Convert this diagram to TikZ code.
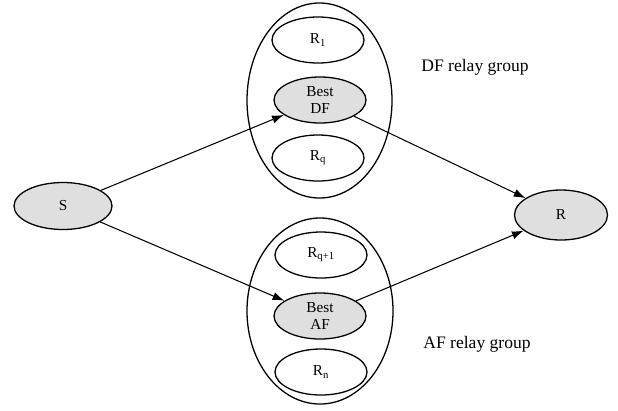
\documentclass[tikz,border=0pt]{standalone}
\usepackage{fontspec}
\setmainfont{Liberation Serif}
\usepackage{tikz}
\usetikzlibrary{shapes.geometric, arrows.meta}

\begin{document}
\begin{tikzpicture}[x=0.03cm, y=-0.03cm,
	relay/.style={ellipse, draw, line width=1.1pt, minimum width=2.76cm, minimum height=1.38cm, inner sep=0pt, font=\fontsize{13}{14}\selectfont, align=center},
	best/.style={relay, fill=gray!25},
	group/.style={ellipse, draw, line width=1.1pt, inner sep=0pt},
	link/.style={-{Latex[length=10pt, width=7pt]}, line width=0.9pt}]
	\useasboundingbox (0,0) rectangle (618,410);
	
	% relay groups
	\node (dfgroup) at (319.5,100.5) [group, minimum width=4.35cm, minimum height=5.85cm] {};
	\node (afgroup) at (320,311) [group, minimum width=4.38cm, minimum height=5.58cm] {};
	\node (dflabel) at (475,67) [font=\fontsize{15}{16}\selectfont] {DF relay group};
	\node (aflabel) at (477,344) [font=\fontsize{15}{16}\selectfont] {AF relay group};
	
	% DF relays
	\node (r1) at (318,40) [relay] {R\textsubscript{1}};
	\node (bestdf) at (320,100) [best] {Best\\DF};
	\node (rq) at (318,158) [relay] {R\textsubscript{q}};
	
	% AF relays
	\node (rq1) at (321,255) [relay] {R\textsubscript{q+1}};
	\node (bestaf) at (320,316) [best] {Best\\AF};
	\node (rn) at (321,372) [relay] {R\textsubscript{n}};
	
	% source and destination
	\node (src) at (63,206) [best, minimum width=2.94cm, minimum height=1.41cm] {S};
	\node (dst) at (561,215) [best, minimum width=2.79cm, minimum height=1.5cm] {R};
	
	\draw [link] (src) -- (bestdf);
	\draw [link] (src) -- (bestaf);
	\draw [link] (bestdf) -- (dst);
	\draw [link] (bestaf) -- (dst);
\end{tikzpicture}
\end{document}
